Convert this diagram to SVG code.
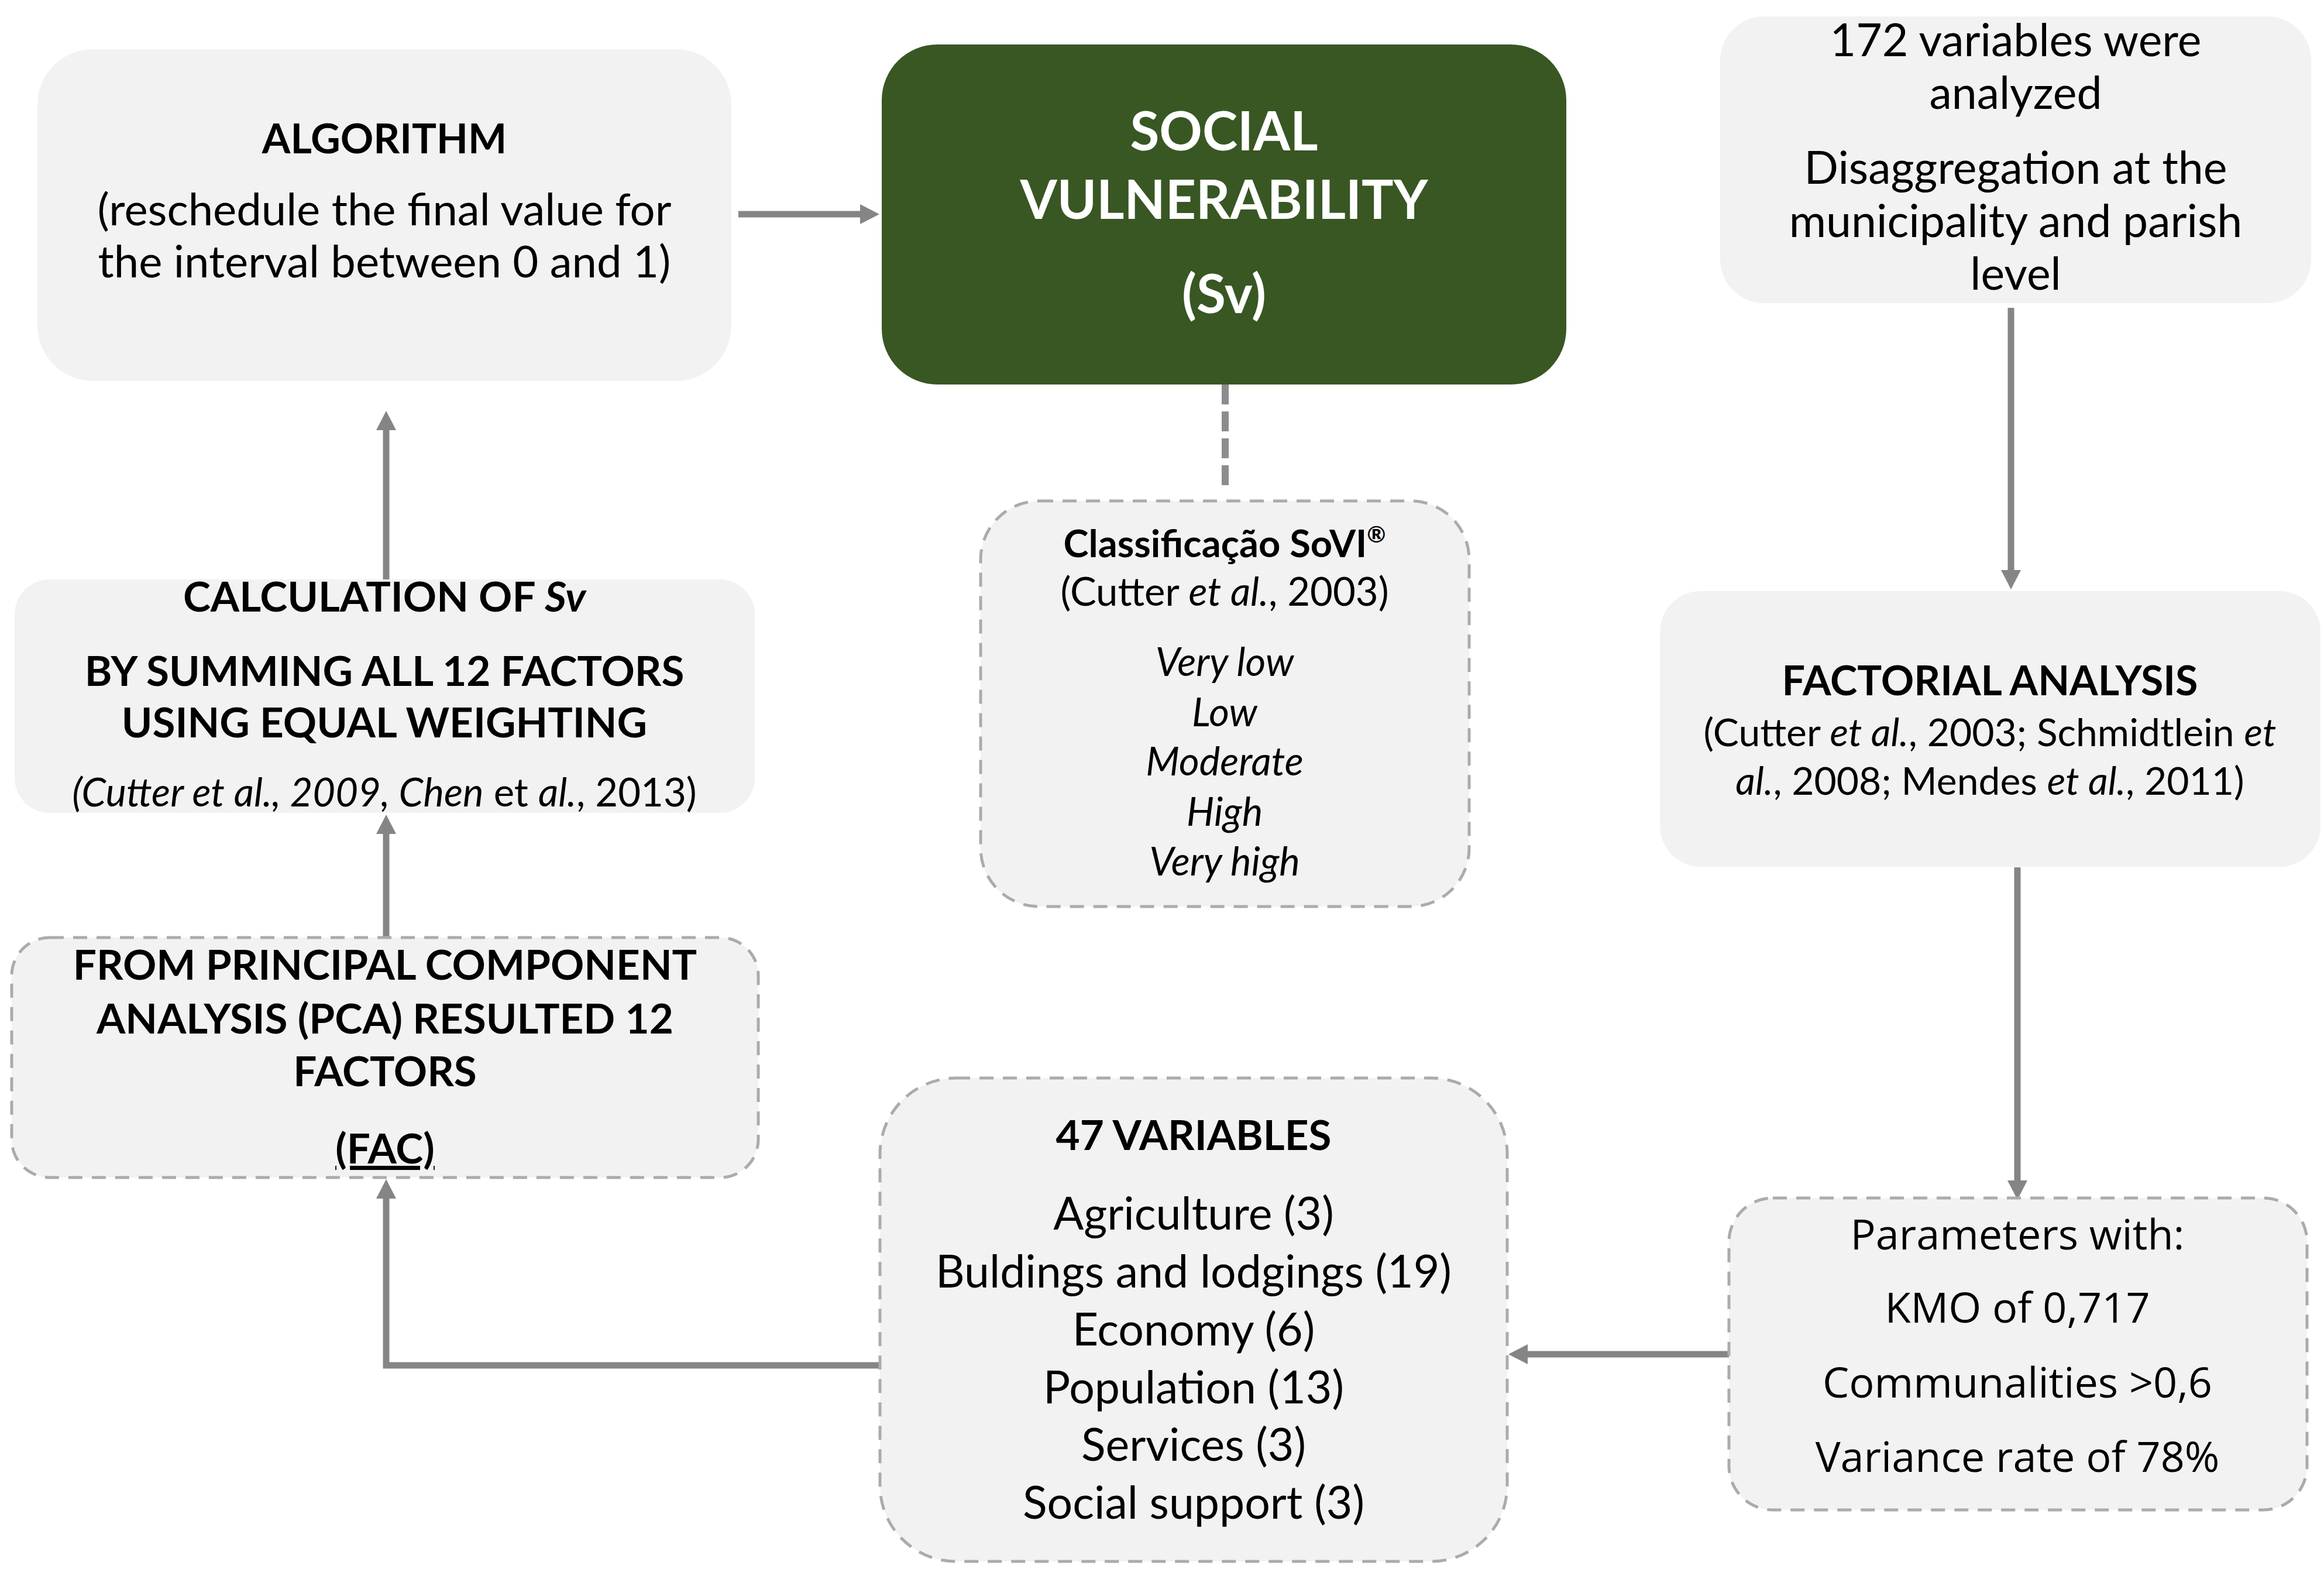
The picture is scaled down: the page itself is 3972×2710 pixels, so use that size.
<svg xmlns="http://www.w3.org/2000/svg" width="3972" height="2710" viewBox="0 0 3972 2710">
<style>
.box{fill:#f2f2f2}
.dbox{fill:#f2f2f2;stroke:#ababab;stroke-width:5;stroke-dasharray:24 16}
.sv{fill:#385723}
text{font-family:Lato,"Liberation Sans",sans-serif;text-anchor:middle;fill:#000}
.os{font-family:"Open Sans","Liberation Sans",sans-serif}
.b{font-weight:bold}
.i{font-style:italic}
.w{fill:#ffffff}
.conn{stroke:#858585;stroke-width:11;fill:none}
.dconn{stroke:#8c8c8c;stroke-width:12;fill:none;stroke-dasharray:34 12}
</style>
<defs>
<marker id="ah" markerUnits="userSpaceOnUse" markerWidth="34" markerHeight="34" refX="3" refY="17" orient="auto" viewBox="0 0 34 34">
<path d="M0,0 L33,17 L0,34 z" fill="#858585"/>
</marker>
</defs>
<rect width="3972" height="2710" fill="#ffffff"/>

<g id="connectors">
<line class="conn" x1="1262" y1="366" x2="1473" y2="366" marker-end="url(#ah)"/>
<line class="conn" x1="3437" y1="526" x2="3437" y2="977" marker-end="url(#ah)"/>
<line class="conn" x1="3448" y1="1482" x2="3448" y2="2020" marker-end="url(#ah)"/>
<line class="conn" x1="2955" y1="2314" x2="2608" y2="2314" marker-end="url(#ah)"/>
<polyline class="conn" points="1504,2333 660,2333 660,2045" marker-end="url(#ah)"/>
<line class="conn" x1="660" y1="1602" x2="660" y2="1422" marker-end="url(#ah)"/>
<line class="conn" x1="660" y1="990" x2="660" y2="732" marker-end="url(#ah)"/>
<line class="dconn" x1="2094" y1="657" x2="2094" y2="840"/>
</g>

<g id="algorithm">
<rect class="box" x="64" y="84" width="1186" height="567" rx="95"/>
<text x="657" y="262" font-size="70" class="b">ALGORITHM</text>
<text x="657" y="385" font-size="76">(reschedule the final value for</text>
<text x="657" y="474" font-size="76">the interval between 0 and 1)</text>
</g>

<g id="social-vulnerability">
<rect class="sv" x="1507" y="76" width="1170" height="581" rx="95"/>
<text x="2092" y="257" font-size="91" class="b w">SOCIAL</text>
<text x="2092" y="374" font-size="91" class="b w">VULNERABILITY</text>
<text x="2092" y="535" font-size="91" class="b w">(Sv)</text>
</g>

<g id="variables-172">
<rect class="box" x="2940" y="28" width="1010" height="490" rx="75"/>
<text x="3445" y="96" font-size="77">172 variables were</text>
<text x="3445" y="186" font-size="77">analyzed</text>
<text x="3445" y="314" font-size="77">Disaggregation at the</text>
<text x="3445" y="405" font-size="77">municipality and parish</text>
<text x="3445" y="495" font-size="77">level</text>
</g>

<g id="factorial-analysis">
<rect class="box" x="2837" y="1010" width="1129" height="471" rx="70"/>
<text x="3401" y="1188" font-size="70" class="b">FACTORIAL ANALYSIS</text>
<text x="3401" y="1275" font-size="66">(Cutter <tspan class="i">et al.</tspan>, 2003; Schmidtlein <tspan class="i">et</tspan></text>
<text x="3401" y="1358" font-size="66"><tspan class="i">al.</tspan>, 2008; Mendes <tspan class="i">et al.</tspan>, 2011)</text>
</g>

<g id="parameters">
<rect class="dbox" x="2955" y="2047" width="988" height="533" rx="75"/>
<text x="3448" y="2135" font-size="72" class="os">Parameters with:</text>
<text x="3448" y="2260" font-size="72" class="os">KMO of 0,717</text>
<text x="3448" y="2388" font-size="72" class="os">Communalities &gt;0,6</text>
<text x="3448" y="2515" font-size="72" class="os">Variance rate of 78%</text>
</g>

<g id="variables-47">
<rect class="dbox" x="1504" y="1842" width="1072" height="826" rx="130"/>
<text x="2040" y="1965" font-size="71" class="b">47 VARIABLES</text>
<text x="2040" y="2101" font-size="77">Agriculture (3)</text>
<text x="2040" y="2200" font-size="77">Buldings and lodgings (19)</text>
<text x="2040" y="2299" font-size="77">Economy (6)</text>
<text x="2040" y="2398" font-size="77">Population (13)</text>
<text x="2040" y="2496" font-size="77">Services (3)</text>
<text x="2040" y="2595" font-size="77">Social support (3)</text>
</g>

<g id="fac">
<rect class="dbox" x="20" y="1602" width="1276" height="410" rx="65"/>
<text x="658" y="1674" font-size="71" class="b">FROM PRINCIPAL COMPONENT</text>
<text x="658" y="1766" font-size="71" class="b">ANALYSIS (PCA) RESULTED 12</text>
<text x="658" y="1856" font-size="71" class="b">FACTORS</text>
<text x="658" y="1988" font-size="71" class="b" text-decoration="underline">(FAC)</text>
</g>

<g id="calculation">
<rect class="box" x="25" y="990" width="1265" height="399" rx="60"/>
<text x="657" y="1045" font-size="71" class="b">CALCULATION OF <tspan class="i">Sv</tspan></text>
<text x="657" y="1172" font-size="71" class="b">BY SUMMING ALL 12 FACTORS</text>
<text x="657" y="1260" font-size="71" class="b">USING EQUAL WEIGHTING</text>
<text x="657" y="1378" font-size="67"><tspan class="i">(Cutter et al., 2009, Chen</tspan> et <tspan class="i">al.</tspan>, 2013)</text>
</g>

<g id="classificacao">
<rect class="dbox" x="1676" y="856" width="835" height="693" rx="100"/>
<text x="2093" y="952" font-size="65" class="b">Classificação SoVI<tspan font-size="39" dy="-25">®</tspan></text>
<text x="2093" y="1035" font-size="67">(Cutter <tspan class="i">et al.</tspan>, 2003)</text>
<text x="2093" y="1155" font-size="67" class="i">Very low</text>
<text x="2093" y="1241" font-size="67" class="i">Low</text>
<text x="2093" y="1325" font-size="67" class="i">Moderate</text>
<text x="2093" y="1411" font-size="67" class="i">High</text>
<text x="2093" y="1496" font-size="67" class="i">Very high</text>
</g>
</svg>
